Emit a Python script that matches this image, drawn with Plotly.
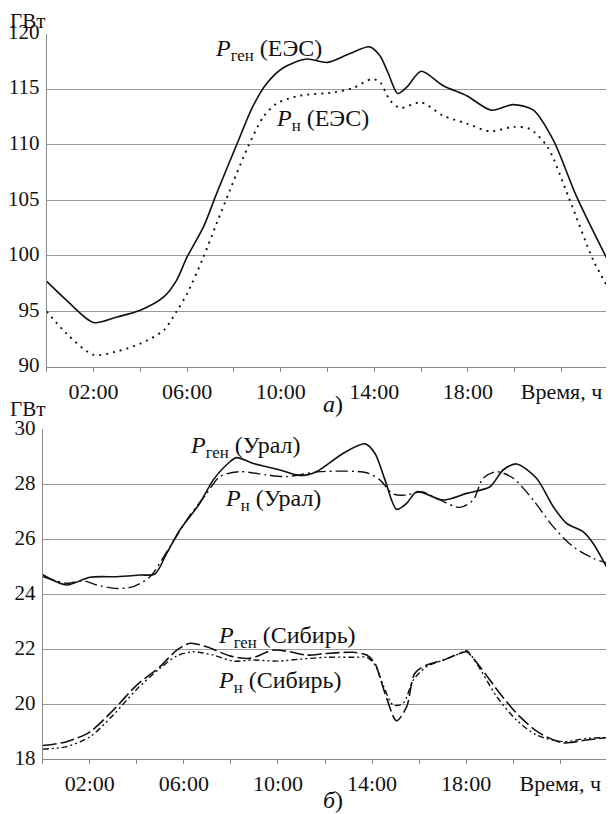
import plotly.graph_objects as go

# ---------------- data ----------------
# Top panel (ЕЭС), hours
ees_gen_t = [0, 0.85, 2, 3, 4, 5, 5.55, 6, 6.7, 7.26, 8.12, 8.8, 9.4, 10.1, 11.1, 12.0, 12.96, 13.8, 14.24, 14.6, 15.0, 15.4, 16.0, 16.95, 17.95, 19.0, 19.94, 20.8, 21.65, 22.65, 24]
ees_gen = [97.7, 96.0, 94.0, 94.5, 95.1, 96.3, 97.8, 99.9, 102.6, 105.6, 110.0, 113.4, 115.5, 116.9, 117.7, 117.4, 118.2, 118.8, 118.0, 116.4, 114.6, 115.2, 116.6, 115.3, 114.4, 113.1, 113.6, 113.1, 110.4, 105.3, 99.5]

ees_load_t = [0, 0.85, 2, 3, 4, 5, 5.55, 6, 6.7, 7.26, 7.83, 8.6, 9.26, 9.83, 10.8, 12.25, 13.1, 13.9, 14.25, 14.67, 15.1, 16.0, 16.95, 17.95, 18.95, 19.94, 20.65, 21.4, 22.3, 23.36, 24]
ees_load = [95.0, 93.0, 91.1, 91.4, 92.1, 93.3, 95.0, 96.6, 99.9, 102.9, 105.9, 109.8, 112.5, 113.7, 114.4, 114.7, 115.1, 115.9, 115.6, 114.0, 113.3, 113.8, 112.6, 111.9, 111.2, 111.6, 111.4, 109.8, 105.3, 99.6, 97.1]

# Bottom panel (Урал, Сибирь), hours
ural_gen_t = [0, 1.02, 2.0, 3.14, 4.13, 4.77, 5.27, 5.83, 6.68, 7.25, 7.96, 8.24, 8.95, 10.08, 10.93, 11.64, 12.78, 13.7, 14.12, 14.55, 15.04, 15.47, 15.9, 17.03, 18.02, 19.01, 19.57, 20.14, 20.99, 21.7, 22.27, 22.97, 23.4, 24]
ural_gen = [24.71, 24.34, 24.62, 24.64, 24.70, 24.74, 25.49, 26.34, 27.31, 28.16, 28.82, 28.97, 28.76, 28.52, 28.32, 28.46, 29.13, 29.47, 29.13, 28.16, 27.09, 27.31, 27.73, 27.43, 27.67, 27.91, 28.52, 28.74, 28.22, 27.19, 26.58, 26.28, 25.85, 24.95]

ural_load_t = [0, 1.02, 1.73, 2.3, 3.14, 3.85, 4.56, 5.41, 6.12, 6.97, 7.53, 8.38, 9.52, 10.37, 11.79, 13.77, 14.33, 14.9, 15.47, 16.1, 16.88, 17.73, 18.3, 18.72, 19.3, 20.0, 20.85, 21.7, 22.55, 23.4, 24]
ural_load = [24.64, 24.40, 24.49, 24.34, 24.21, 24.28, 24.64, 25.73, 26.70, 27.67, 28.28, 28.46, 28.34, 28.28, 28.46, 28.42, 28.16, 27.65, 27.61, 27.73, 27.43, 27.16, 27.43, 28.22, 28.46, 28.22, 27.43, 26.46, 25.73, 25.31, 25.13]

sib_gen_t = [0, 1.02, 2.01, 3.0, 4.0, 4.99, 5.7, 6.26, 6.97, 7.96, 8.81, 9.8, 10.51, 11.22, 12.07, 13.2, 13.77, 14.12, 14.55, 15.04, 15.47, 15.82, 16.32, 17.03, 17.73, 18.02, 18.58, 19.43, 20.28, 21.13, 22.12, 23.11, 24]
sib_gen = [18.50, 18.64, 19.00, 19.79, 20.70, 21.37, 21.97, 22.22, 22.09, 21.76, 21.67, 21.97, 21.91, 21.79, 21.85, 21.89, 21.79, 21.49, 20.40, 19.40, 19.91, 21.13, 21.43, 21.61, 21.85, 21.91, 21.37, 20.40, 19.55, 18.95, 18.60, 18.70, 18.79]

sib_load_t = [0, 1.02, 2.01, 3.0, 4.0, 4.99, 5.7, 6.4, 7.25, 8.1, 8.95, 10.0, 10.93, 12.07, 13.35, 13.77, 14.12, 14.47, 14.9, 15.33, 15.75, 16.32, 17.03, 17.73, 18.02, 18.44, 19.3, 20.14, 21.0, 22.12, 23.11, 24]
sib_load = [18.37, 18.46, 18.82, 19.61, 20.55, 21.31, 21.76, 21.91, 21.79, 21.57, 21.61, 21.57, 21.64, 21.71, 21.71, 21.71, 21.43, 20.70, 19.97, 20.04, 20.88, 21.37, 21.61, 21.85, 21.95, 21.49, 20.28, 19.43, 18.88, 18.64, 18.76, 18.79]

x_tickvals = [2, 6, 10, 14, 18, 22]
x_ticktext = ["02:00", "06:00", "10:00", "14:00", "18:00", "Время, ч"]
top_yticks = [90, 95, 100, 105, 110, 115, 120]
bot_yticks = [18, 20, 22, 24, 26, 28, 30]

# ---------------- figure ----------------
# the page body has an 8px margin, so the figure starts 8px in from the window corner
OFF = 8
W, H = 614 - OFF, 814 - OFF
FONT = "Liberation Serif, Times New Roman, serif"
FS = 22
YFS = 21
AS = 24

def px(x):
    return (x - OFF) / W

def py(y):
    return 1 - (y - OFF) / H

fig = go.Figure()

line_w = 1.6
fig.add_trace(go.Scatter(x=ees_gen_t, y=ees_gen, mode="lines", line=dict(color="#111", width=line_w, shape="spline", smoothing=0.8), xaxis="x", yaxis="y"))
fig.add_trace(go.Scatter(x=ees_load_t, y=ees_load, mode="lines", line=dict(color="#111", width=line_w + 0.3, dash="2px,5px", shape="spline", smoothing=0.8), xaxis="x", yaxis="y"))

fig.add_trace(go.Scatter(x=ural_gen_t, y=ural_gen, mode="lines", line=dict(color="#111", width=line_w, shape="spline", smoothing=0.8), xaxis="x2", yaxis="y2"))
fig.add_trace(go.Scatter(x=ural_load_t, y=ural_load, mode="lines", line=dict(color="#111", width=line_w - 0.2, dash="12px,4px,2px,4px", shape="spline", smoothing=0.8), xaxis="x2", yaxis="y2"))
fig.add_trace(go.Scatter(x=sib_gen_t, y=sib_gen, mode="lines", line=dict(color="#111", width=line_w, dash="14px,4px", shape="spline", smoothing=0.8), xaxis="x2", yaxis="y2"))
fig.add_trace(go.Scatter(x=sib_load_t, y=sib_load, mode="lines", line=dict(color="#111", width=line_w - 0.2, dash="6px,3px,2px,3px,2px,3px", shape="spline", smoothing=0.8), xaxis="x2", yaxis="y2"))

axis_common = dict(
    showline=True, linecolor="#8a8a8a", linewidth=1.2,
    zeroline=False, automargin=False,
)

minor_x = dict(tick0=0, dtick=2, ticks="outside", ticklen=4, tickcolor="#8a8a8a", showgrid=False)
xfont = dict(family=FONT, size=FS, color="#111")
yfont = dict(family=FONT, size=YFS, color="#111")

fig.update_layout(
    width=W, height=H,
    margin=dict(l=0, r=0, t=0, b=0, autoexpand=False),
    paper_bgcolor="white", plot_bgcolor="white",
    showlegend=False,
    font=dict(family=FONT, size=FS, color="#111"),
    xaxis=dict(domain=[px(46.7), px(608.3)], range=[0, 24], tickvals=x_tickvals, ticktext=x_ticktext,
               ticks="outside", ticklen=4, tickcolor="#8a8a8a", showgrid=False, anchor="y",
               minor=minor_x, tickfont=xfont, **axis_common),
    yaxis=dict(domain=[py(367), py(33.5)], range=[90, 120], tickvals=top_yticks,
               ticks="", ticklen=0, showgrid=True, gridcolor="#9a9a9a", gridwidth=1.2, mirror=True, anchor="x",
               ticklabelstandoff=2, ticklabelshift=-2, tickfont=yfont, **axis_common),
    xaxis2=dict(domain=[px(42.7), px(607.3)], range=[0, 24], tickvals=x_tickvals, ticktext=x_ticktext,
                ticks="outside", ticklen=4, tickcolor="#8a8a8a", showgrid=False, anchor="y2",
                minor=minor_x, tickfont=xfont, **axis_common),
    yaxis2=dict(domain=[py(759.3), py(429.3)], range=[18, 30], tickvals=bot_yticks,
                ticks="", ticklen=0, showgrid=True, gridcolor="#9a9a9a", gridwidth=1.2, mirror=True, anchor="x2",
                ticklabelstandoff=2, ticklabelshift=-2, tickfont=yfont, **axis_common),
)

def label(text, x, y, xanchor="left", yanchor="middle", size=AS):
    fig.add_annotation(text=text, x=px(x), y=py(y), xref="paper", yref="paper",
                       xanchor=xanchor, yanchor=yanchor, showarrow=False,
                       font=dict(family=FONT, size=size, color="#111"))

label("ГВт", 8, 21, size=YFS)
label("ГВт", 8, 409, size=YFS)
label("<i>P</i><sub>ген</sub> (ЕЭС)", 213, 50)
label("<i>P</i><sub>н</sub> (ЕЭС)", 274, 120)
label("<i>P</i><sub>ген</sub> (Урал)", 188, 447)
label("<i>P</i><sub>н</sub> (Урал)", 223, 500)
label("<i>P</i><sub>ген</sub> (Сибирь)", 216, 637)
label("<i>P</i><sub>н</sub> (Сибирь)", 216, 682)
label("<i>а</i>)", 333, 404, xanchor="center")
label("<i>б</i>)", 333, 800, xanchor="center")

fig.write_html("out.html")
